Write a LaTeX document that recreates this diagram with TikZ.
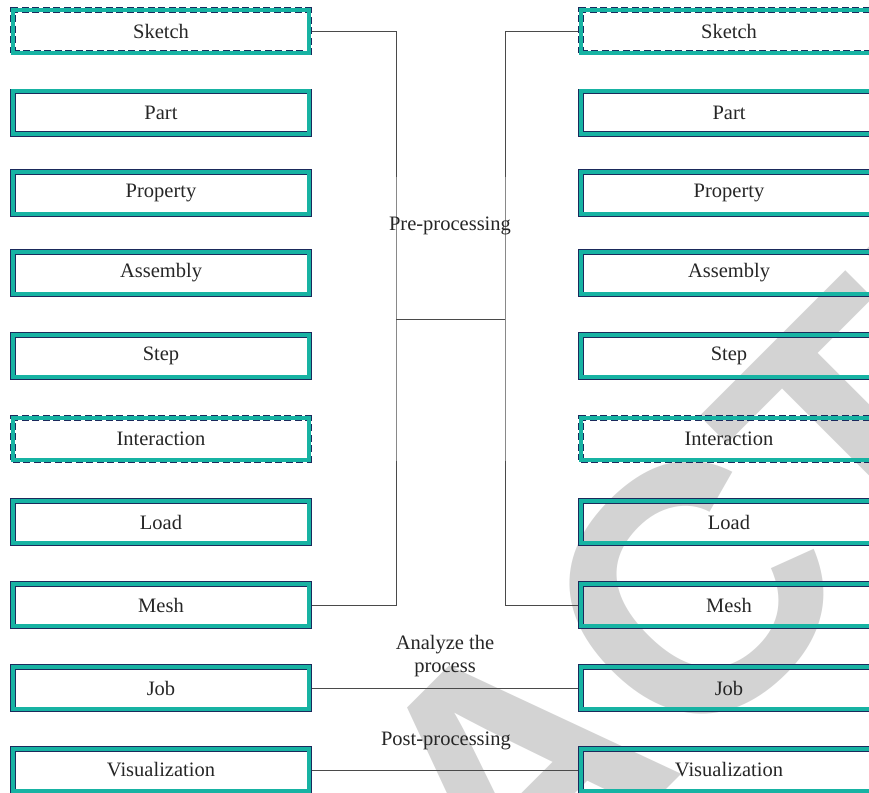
\documentclass[tikz,border=0pt]{standalone}
\usepackage{fontspec}
\usepackage{tikz}
\setmainfont{Liberation Serif}
\newfontfamily\wmfont{Liberation Sans}
\definecolor{navyline}{HTML}{1B2A5C}
\definecolor{tealband}{HTML}{17B3A3}
\definecolor{wmgray}{HTML}{D3D3D3}
\definecolor{linkgray}{HTML}{4A4A4A}
\tikzstyle{stage} = [draw=navyline,line width=5.5pt,postaction={draw=tealband,solid,line width=3.6pt},minimum width=296.5pt,minimum height=42.5pt,inner sep=0,text=black!85,font=\fontsize{20.5}{24}\selectfont]
\tikzstyle{optstage} = [stage,dash pattern=on 7pt off 3.5pt]
\tikzstyle{link} = [draw=linkgray,line width=1pt]

\begin{document}
\begin{tikzpicture}[x=1pt,y=-1pt,lbl/.style={inner sep=1,text=black!85,font=\fontsize{20.5}{23}\selectfont,align=center}]
    \useasboundingbox (0,0) rectangle (869,792);
    \clip (0,0) rectangle (869,792);

    \node[inner sep=0,rotate=45,text=wmgray,font=\wmfont\bfseries\fontsize{350}{350}\selectfont] (wm) at (514,772) {RETRACTED};

    \node[optstage] (sketchl) at (161,31.5) {Sketch};
    \node[stage] (partl) at (161,112.5) {Part};
    \node[stage] (propl) at (161,193) {Property};
    \node[stage] (asml) at (161,273) {Assembly};
    \node[stage] (stepl) at (161,356) {Step};
    \node[optstage] (interl) at (161,439) {Interaction};
    \node[stage] (loadl) at (161,522) {Load};
    \node[stage] (meshl) at (161,605) {Mesh};
    \node[stage] (jobl) at (161,688) {Job};
    \node[stage] (visl) at (161,770) {Visualization};

    \node[optstage] (sketchr) at (729,31.5) {Sketch};
    \node[stage] (partr) at (729,112.5) {Part};
    \node[stage] (propr) at (729,193) {Property};
    \node[stage] (asmr) at (729,273) {Assembly};
    \node[stage] (stepr) at (729,356) {Step};
    \node[optstage] (interr) at (729,439) {Interaction};
    \node[stage] (loadr) at (729,522) {Load};
    \node[stage] (meshr) at (729,605) {Mesh};
    \node[stage] (jobr) at (729,688) {Job};
    \node[stage] (visr) at (729,770) {Visualization};

    \coordinate (prel) at (396,319.5);
    \coordinate (prer) at (505,319.5);

    \draw[link] (sketchl.east) -| (prel) |- (meshl.east);
    \draw[link] (sketchr.west) -| (prer) |- (meshr.west);
    \draw[link] (prel) -- (prer);
    \draw[link] (jobl) -- (jobr);
    \draw[link] (visl) -- (visr);

    \node[lbl] (prelbl) at (450,226) {Pre-processing};
    \node[lbl] (anlbl) at (445,656) {Analyze the\\process};
    \node[lbl] (postlbl) at (446,741) {Post-processing};

\end{tikzpicture}
\end{document}
